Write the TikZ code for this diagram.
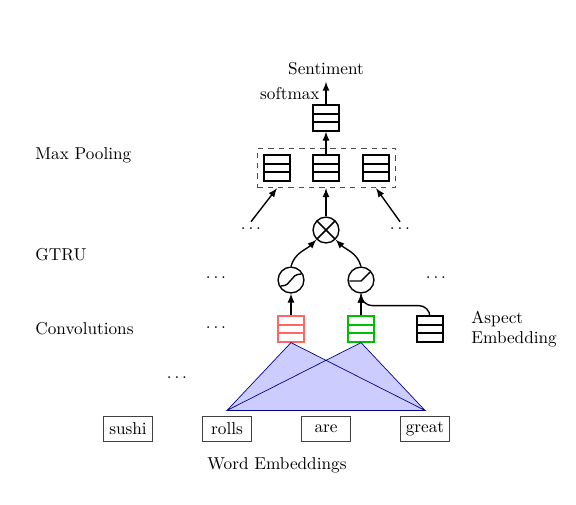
\documentclass[tikz,border=0pt]{standalone}
\usepackage{tikz}
\usetikzlibrary{positioning}
\usetikzlibrary{calc}
\usetikzlibrary{arrows}
\usetikzlibrary{fit}
\usepackage{amsmath}
\tikzset{
        every path/.style={thick},
        vecbox/.style={draw=#1, minimum width=15pt, minimum height=15pt, inner sep=0pt,
            path picture={
                \draw [#1, line width=1pt] ($(path picture bounding box.north west)!0.333!(path picture bounding box.south west)$) -- ($(path picture bounding box.north east)!0.333!(path picture bounding box.south east)$);
                \draw [#1, line width=1pt] ($(path picture bounding box.north west)!0.667!(path picture bounding box.south west)$) -- ($(path picture bounding box.north east)!0.667!(path picture bounding box.south east)$);
            }},
        vecbox/.default=black,
        gate/.style={circle, draw, minimum size=15pt, inner sep=0pt},
        mulgate/.style={gate,
            path picture={
                \draw [line width=1pt] (path picture bounding box.north west) -- (path picture bounding box.south east)
                      (path picture bounding box.north east) -- (path picture bounding box.south west);
            }},
        word/.style={draw=black!75, semithick, minimum width=29pt, minimum height=14pt, inner sep=2pt},
        layer/.style={anchor=west},
        }

\begin{document}
\begin{tikzpicture}[x=0.581pt, y=-0.581pt, >=latex]
			\useasboundingbox (0,0) rectangle (576,504);

			% word embeddings
			\node [word] (sushi) at (128,429) {sushi};
			\node [word] (rolls) at (227,429) {rolls};
			\node [word] (are) at (326,429) {are};
			\node [word] (great) at (425,429) {great};
			\node (wordlbl) at (277,465) {Word Embeddings};

			% convolutions
			\node [vecbox=red!60] (convA) at (291,329) {};
			\node [vecbox=green!75!black] (convB) at (361,329) {};
			\node [vecbox] (aspect) at (430,329) {};
			\node [anchor=west, align=left] (aspectlbl) at (465,329) {Aspect\\Embedding};
			\node (dotsC1) at (216,328) {$\ldots$};
			\node (dotsC2) at (177,378) {$\ldots$};

			% filters
			\coordinate (fl) at ($(rolls.north)+(0,3.5pt)$);
			\coordinate (fr) at ($(great.north)+(0,3.5pt)$);
			\fill [blue!20] (fl) -- (convA.south) -- (fr) -- cycle
				(fl) -- (convB.south) -- (fr) -- cycle;
			\draw [thin, blue!55!black] (fl) -- (convA.south) -- (fr) -- cycle
				(fl) -- (convB.south) -- (fr) -- cycle;

			% GTRU
			\node [gate] (sig) at (291,280) {};
			\node [gate] (relu) at (361,280) {};
			\node [mulgate] (mul) at (326,230) {};
			\node (dotsG1) at (216,278) {$\ldots$};
			\node (dotsG2) at (436,278) {$\ldots$};

			\draw ([shift={(-6pt,-3.5pt)}]sig.center) .. controls ([shift={(1pt,-3.5pt)}]sig.center) and ([shift={(-1pt,3.5pt)}]sig.center) .. ([shift={(6pt,3.5pt)}]sig.center);
			\draw ([shift={(-6.8pt,-0.6pt)}]relu.center) -- ([shift={(0pt,-0.6pt)}]relu.center) -- ([shift={(5.3pt,4.6pt)}]relu.center);

			\draw [->] (convA) -- (sig);
			\draw [->] (convB) -- (relu);
			\draw [->, rounded corners=6.5pt] (aspect.north) |- ($(relu.south)+(0,12)$) -- (relu.south);
			\draw [->] (sig.north) to [out=75, in=-135] (mul.south west);
			\draw [->] (relu.north) to [out=105, in=-45] (mul.south east);

			% max pooling
			\node [vecbox] (poolL) at (277,168) {};
			\node [vecbox] (poolM) at (326,168) {};
			\node [vecbox] (poolR) at (376,168) {};
			\node [draw=black!70, semithick, dashed, fit=(poolL) (poolR), inner sep=3.5pt] (pool) {};
			\node (dotsP1) at (251,229) {$\ldots$};
			\node (dotsP2) at (400,229) {$\ldots$};

			\draw [->] (mul) -- (mul |- pool.south);
			\draw [->] (dotsP1.north) -- (poolL |- pool.south);
			\draw [->] (dotsP2.north) -- (poolR |- pool.south);

			% output
			\node [vecbox] (out) at (326,118) {};
			\node (sent) at (326,69) {Sentiment};
			\draw [->] (poolM) -- (out);
			\draw [->] (out) -- (sent) node [midway, left] {softmax};

			% layer labels
			\node [layer] (lblpool) at (29,155) {Max Pooling};
			\node [layer] (lblgtru) at (29,255) {GTRU};
			\node [layer] (lblconv) at (29,329) {Convolutions};
		\end{tikzpicture}
\end{document}
